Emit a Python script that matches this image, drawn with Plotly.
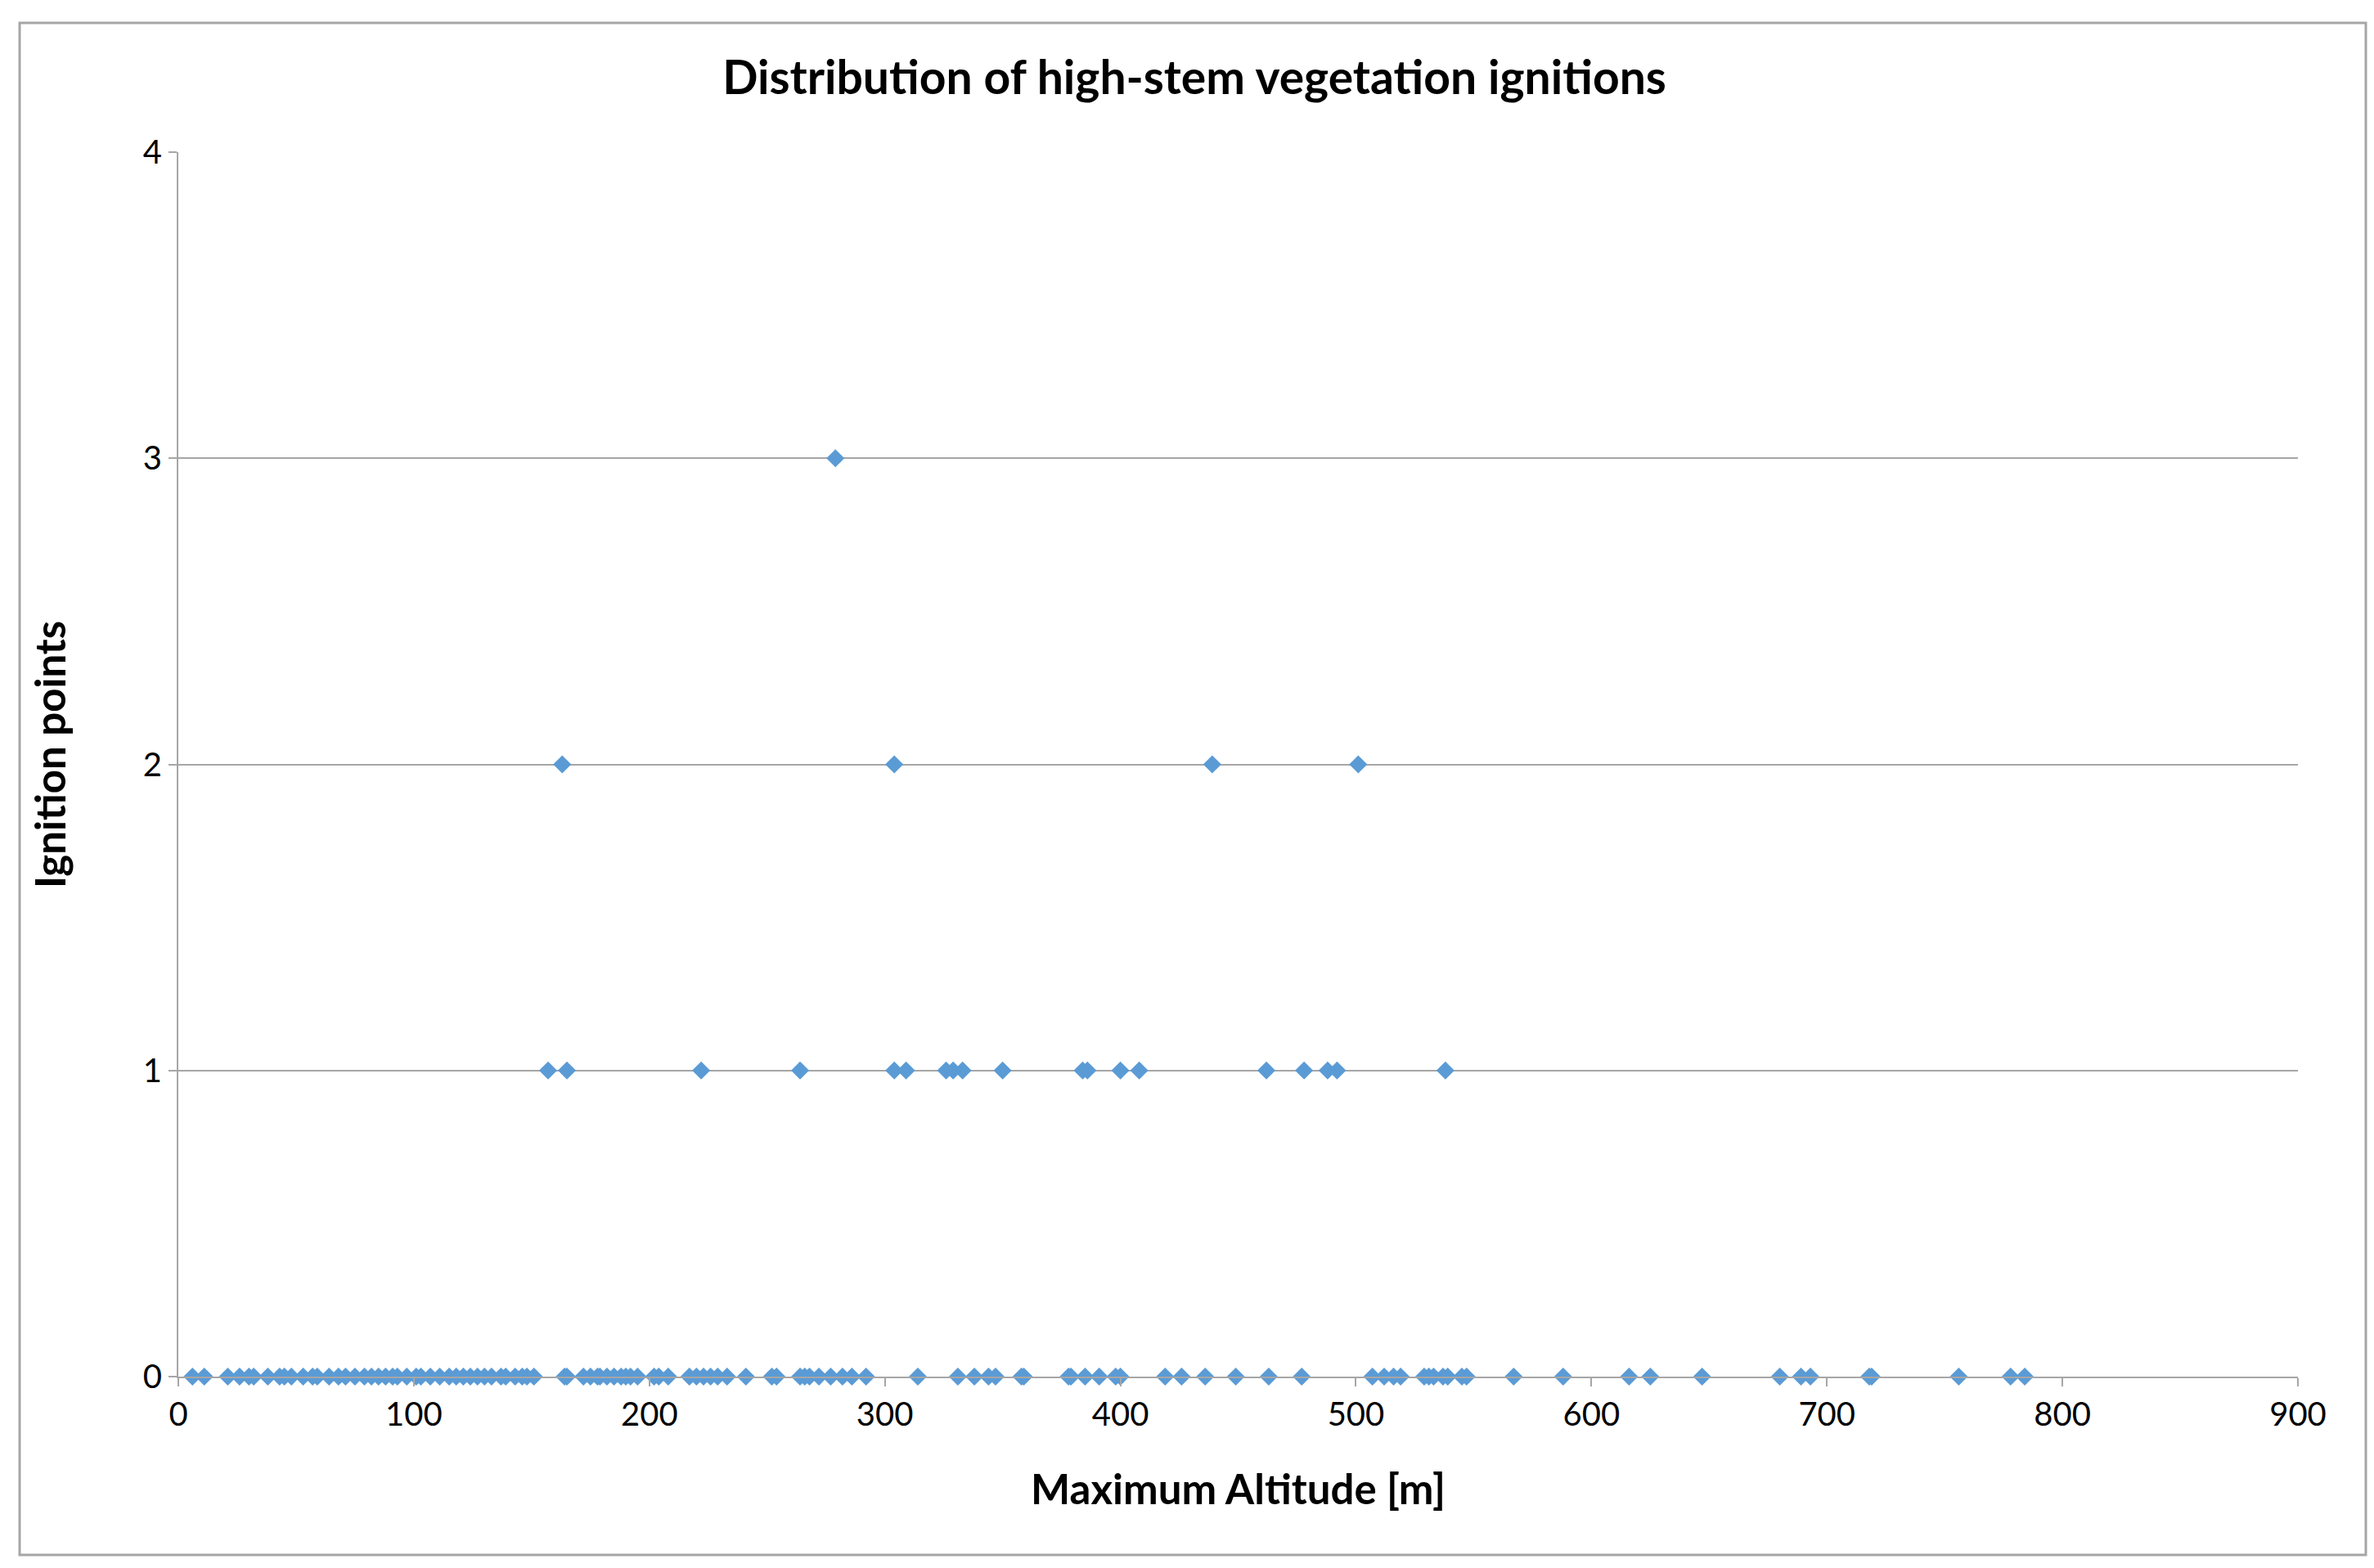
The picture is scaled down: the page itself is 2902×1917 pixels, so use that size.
import plotly.graph_objects as go

# y = 0 (no ignitions)
alt_0 = [6, 11, 21, 26, 30, 32, 38, 43, 45, 48, 53, 57, 59, 64, 68, 71, 75, 79, 82, 85,
         88, 91, 93, 97, 101, 103, 107, 111, 115, 118, 121, 124, 127, 130, 133, 137, 139,
         143, 146, 148, 151, 164, 165, 172, 175, 178, 179, 182, 185, 188, 190, 192, 195,
         202, 204, 208, 217, 220, 223, 226, 229, 233, 241, 252, 254, 264, 266, 268, 272,
         277, 282, 286, 292, 314, 331, 338, 344, 347, 358, 359, 378, 379, 385, 391, 398,
         400, 419, 426, 436, 449, 463, 477, 507, 512, 516, 519, 529, 531, 533, 537, 539,
         545, 547, 567, 588, 616, 625, 647, 680, 689, 693, 718, 719, 756, 778, 784]
alt_1 = [157, 165, 222, 264, 304, 309, 326, 329, 333, 350, 384, 386, 400, 408, 462, 478,
         488, 492, 538]
alt_2 = [163, 304, 439, 501]
alt_3 = [279]

x_vals = alt_0 + alt_1 + alt_2 + alt_3
y_vals = [0] * len(alt_0) + [1] * len(alt_1) + [2] * len(alt_2) + [3] * len(alt_3)

x_ticks = [0, 100, 200, 300, 400, 500, 600, 700, 800, 900]
y_ticks = [0, 1, 2, 3, 4]

FONT = "Lato, Calibri, Liberation Sans, sans-serif"
W, H = 2902, 1917
L, R, T, B = 210, 101, 178, 242
pw, ph = W - L - R, H - T - B


def px_x(p):
    return (p - L) / pw


def px_y(p):
    return (H - B - p) / ph


fig = go.Figure()
fig.add_trace(go.Scatter(
    x=x_vals, y=y_vals, mode="markers",
    marker=dict(symbol="diamond", size=17, color="#5B9BD5", line=dict(width=0)),
    showlegend=False, cliponaxis=False,
))

fig.update_layout(
    width=W, height=H,
    margin=dict(l=L, r=R, t=T, b=B),
    paper_bgcolor="white", plot_bgcolor="white",
    font=dict(family=FONT, color="#000000"),
    title=dict(text="<b>Distribution of high-stem vegetation ignitions</b>",
               x=1452 / W, xanchor="center", y=1 - 87 / H, yanchor="middle",
               yref="container", font=dict(size=57, family=FONT)),
    xaxis=dict(range=[0, 900], tickvals=x_ticks, ticktext=[str(v) for v in x_ticks],
               showgrid=False, zeroline=False, showline=True, linecolor="#A6A6A6",
               linewidth=2, ticks="outside", ticklen=10, tickcolor="#A6A6A6", tickwidth=2,
               tickfont=dict(size=40, family=FONT)),
    yaxis=dict(range=[0, 4], tickvals=y_ticks, ticktext=[str(v) for v in y_ticks],
               showgrid=True, gridcolor="#A6A6A6", gridwidth=2, zeroline=False,
               showline=True, linecolor="#A6A6A6", linewidth=2, ticks="outside",
               ticklen=10, tickcolor="#A6A6A6", tickwidth=2,
               tickfont=dict(size=40, family=FONT)),
    annotations=[
        dict(text="<b>Maximum Altitude [m]</b>", xref="paper", yref="paper",
             x=px_x(1505), y=px_y(1811), xanchor="center", yanchor="middle",
             showarrow=False, font=dict(size=51, family=FONT)),
        dict(text="<b>Ignition points</b>", xref="paper", yref="paper",
             x=px_x(52), y=px_y(915), xanchor="center", yanchor="middle",
             textangle=-90, showarrow=False, font=dict(size=51, family=FONT)),
    ],
    shapes=[dict(type="rect", xref="paper", yref="paper",
                 x0=px_x(16), x1=px_x(2884),
                 y0=px_y(1893), y1=px_y(20),
                 line=dict(color="#A6A6A6", width=3), fillcolor="rgba(0,0,0,0)",
                 layer="below")],
)

fig.write_html("out.html")
